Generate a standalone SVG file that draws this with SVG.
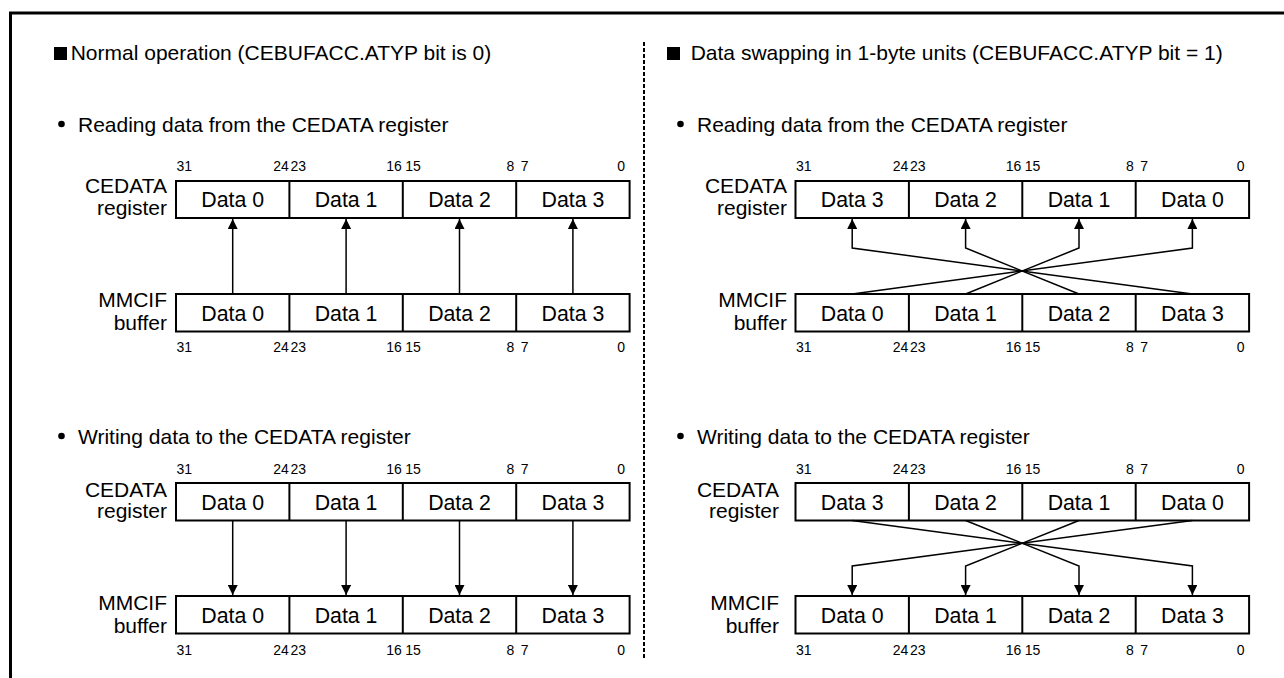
<svg xmlns="http://www.w3.org/2000/svg" width="1284" height="678" viewBox="0 0 1284 678">
<style>
text{font-family:"Liberation Sans",Arial,sans-serif;fill:#000}
.t{font-size:21px}
.d{font-size:21.3px;text-anchor:middle}
.lb{font-size:21px;text-anchor:end}
.b{font-size:14px}
.e{text-anchor:end}
.box{fill:#fff;stroke:#000;stroke-width:2}
.dv{stroke:#000;stroke-width:2}
.c{fill:none;stroke:#000;stroke-width:1.5}
</style>
<defs>
<marker id="ah" markerUnits="userSpaceOnUse" markerWidth="10" markerHeight="10" refX="10" refY="5" orient="auto" viewBox="0 0 10 10">
<path d="M0,0 L10,5 L0,10 z" fill="#000"/>
</marker>
</defs>
<rect width="1284" height="678" fill="#fff"/>
<path d="M10.5 678 V13 H1284" fill="none" stroke="#000" stroke-width="3"/>
<line x1="644" y1="42" x2="644" y2="658" stroke="#000" stroke-width="2" stroke-dasharray="4 2"/>

<g id="headings">
<rect x="54" y="47" width="13" height="13" fill="#000"/>
<text class="t" x="70.7" y="60">Normal operation (CEBUFACC.ATYP bit is 0)</text>
<rect x="667" y="47" width="13" height="13" fill="#000"/>
<text class="t" x="690.7" y="60">Data swapping in 1-byte units (CEBUFACC.ATYP bit = 1)</text>
<circle cx="61.5" cy="124" r="3.3" fill="#000"/>
<text class="t" x="78" y="132">Reading data from the CEDATA register</text>
<circle cx="680.5" cy="124" r="3.3" fill="#000"/>
<text class="t" x="697" y="132">Reading data from the CEDATA register</text>
<circle cx="61.5" cy="436" r="3.3" fill="#000"/>
<text class="t" x="78" y="444">Writing data to the CEDATA register</text>
<circle cx="680.5" cy="436" r="3.3" fill="#000"/>
<text class="t" x="697" y="444">Writing data to the CEDATA register</text>
</g>

<!-- Left read -->
<g id="L-read-reg">
<text class="lb" x="167" y="193">CEDATA</text>
<text class="lb" x="167" y="214.5">register</text>
<rect class="box" x="176" y="181" width="453.6" height="37"/>
<line class="dv" x1="289.4" y1="181" x2="289.4" y2="218"/>
<line class="dv" x1="402.8" y1="181" x2="402.8" y2="218"/>
<line class="dv" x1="516.2" y1="181" x2="516.2" y2="218"/>
<text class="d" x="232.7" y="207">Data 0</text>
<text class="d" x="346.1" y="207">Data 1</text>
<text class="d" x="459.5" y="207">Data 2</text>
<text class="d" x="572.9" y="207">Data 3</text>
<text class="b" x="176.5" y="171">31</text><text class="b e" x="288.9" y="171">24</text><text class="b" x="290.4" y="171">23</text><text class="b e" x="401.8" y="171">16</text><text class="b" x="405.3" y="171">15</text><text class="b e" x="514.2" y="171">8</text><text class="b" x="520.7" y="171">7</text><text class="b e" x="625" y="171">0</text>
</g>
<g id="L-read-buf">
<text class="lb" x="167" y="307">MMCIF</text>
<text class="lb" x="167" y="330">buffer</text>
<rect class="box" x="176" y="294" width="453.6" height="37.5"/>
<line class="dv" x1="289.4" y1="294" x2="289.4" y2="331.5"/>
<line class="dv" x1="402.8" y1="294" x2="402.8" y2="331.5"/>
<line class="dv" x1="516.2" y1="294" x2="516.2" y2="331.5"/>
<text class="d" x="232.7" y="320.5">Data 0</text>
<text class="d" x="346.1" y="320.5">Data 1</text>
<text class="d" x="459.5" y="320.5">Data 2</text>
<text class="d" x="572.9" y="320.5">Data 3</text>
<text class="b" x="176.5" y="352">31</text><text class="b e" x="288.9" y="352">24</text><text class="b" x="290.4" y="352">23</text><text class="b e" x="401.8" y="352">16</text><text class="b" x="405.3" y="352">15</text><text class="b e" x="514.2" y="352">8</text><text class="b" x="520.7" y="352">7</text><text class="b e" x="625" y="352">0</text>
</g>

<!-- Left write -->
<g id="L-write-reg">
<text class="lb" x="167" y="497">CEDATA</text>
<text class="lb" x="167" y="518">register</text>
<rect class="box" x="176" y="483" width="453.6" height="37.5"/>
<line class="dv" x1="289.4" y1="483" x2="289.4" y2="520.5"/>
<line class="dv" x1="402.8" y1="483" x2="402.8" y2="520.5"/>
<line class="dv" x1="516.2" y1="483" x2="516.2" y2="520.5"/>
<text class="d" x="232.7" y="509.5">Data 0</text>
<text class="d" x="346.1" y="509.5">Data 1</text>
<text class="d" x="459.5" y="509.5">Data 2</text>
<text class="d" x="572.9" y="509.5">Data 3</text>
<text class="b" x="176.5" y="474">31</text><text class="b e" x="288.9" y="474">24</text><text class="b" x="290.4" y="474">23</text><text class="b e" x="401.8" y="474">16</text><text class="b" x="405.3" y="474">15</text><text class="b e" x="514.2" y="474">8</text><text class="b" x="520.7" y="474">7</text><text class="b e" x="625" y="474">0</text>
</g>
<g id="L-write-buf">
<text class="lb" x="167" y="610">MMCIF</text>
<text class="lb" x="167" y="633">buffer</text>
<rect class="box" x="176" y="596" width="453.6" height="37.5"/>
<line class="dv" x1="289.4" y1="596" x2="289.4" y2="633.5"/>
<line class="dv" x1="402.8" y1="596" x2="402.8" y2="633.5"/>
<line class="dv" x1="516.2" y1="596" x2="516.2" y2="633.5"/>
<text class="d" x="232.7" y="622.5">Data 0</text>
<text class="d" x="346.1" y="622.5">Data 1</text>
<text class="d" x="459.5" y="622.5">Data 2</text>
<text class="d" x="572.9" y="622.5">Data 3</text>
<text class="b" x="176.5" y="655">31</text><text class="b e" x="288.9" y="655">24</text><text class="b" x="290.4" y="655">23</text><text class="b e" x="401.8" y="655">16</text><text class="b" x="405.3" y="655">15</text><text class="b e" x="514.2" y="655">8</text><text class="b" x="520.7" y="655">7</text><text class="b e" x="625" y="655">0</text>
</g>

<!-- Right read -->
<g id="R-read-reg">
<text class="lb" x="787" y="193">CEDATA</text>
<text class="lb" x="787" y="214.5">register</text>
<rect class="box" x="795.5" y="181" width="453.6" height="37"/>
<line class="dv" x1="908.9" y1="181" x2="908.9" y2="218"/>
<line class="dv" x1="1022.3" y1="181" x2="1022.3" y2="218"/>
<line class="dv" x1="1135.7" y1="181" x2="1135.7" y2="218"/>
<text class="d" x="852.2" y="207">Data 3</text>
<text class="d" x="965.6" y="207">Data 2</text>
<text class="d" x="1079" y="207">Data 1</text>
<text class="d" x="1192.4" y="207">Data 0</text>
<text class="b" x="796" y="171">31</text><text class="b e" x="908.4" y="171">24</text><text class="b" x="909.9" y="171">23</text><text class="b e" x="1021.3" y="171">16</text><text class="b" x="1024.8" y="171">15</text><text class="b e" x="1133.7" y="171">8</text><text class="b" x="1140.2" y="171">7</text><text class="b e" x="1244.5" y="171">0</text>
</g>
<g id="R-read-buf">
<text class="lb" x="787" y="307">MMCIF</text>
<text class="lb" x="787" y="330">buffer</text>
<rect class="box" x="795.5" y="294" width="453.6" height="37.5"/>
<line class="dv" x1="908.9" y1="294" x2="908.9" y2="331.5"/>
<line class="dv" x1="1022.3" y1="294" x2="1022.3" y2="331.5"/>
<line class="dv" x1="1135.7" y1="294" x2="1135.7" y2="331.5"/>
<text class="d" x="852.2" y="320.5">Data 0</text>
<text class="d" x="965.6" y="320.5">Data 1</text>
<text class="d" x="1079" y="320.5">Data 2</text>
<text class="d" x="1192.4" y="320.5">Data 3</text>
<text class="b" x="796" y="352">31</text><text class="b e" x="908.4" y="352">24</text><text class="b" x="909.9" y="352">23</text><text class="b e" x="1021.3" y="352">16</text><text class="b" x="1024.8" y="352">15</text><text class="b e" x="1133.7" y="352">8</text><text class="b" x="1140.2" y="352">7</text><text class="b e" x="1244.5" y="352">0</text>
</g>

<!-- Right write -->
<g id="R-write-reg">
<text class="lb" x="779" y="497">CEDATA</text>
<text class="lb" x="779" y="518">register</text>
<rect class="box" x="795.5" y="483" width="453.6" height="37.5"/>
<line class="dv" x1="908.9" y1="483" x2="908.9" y2="520.5"/>
<line class="dv" x1="1022.3" y1="483" x2="1022.3" y2="520.5"/>
<line class="dv" x1="1135.7" y1="483" x2="1135.7" y2="520.5"/>
<text class="d" x="852.2" y="509.5">Data 3</text>
<text class="d" x="965.6" y="509.5">Data 2</text>
<text class="d" x="1079" y="509.5">Data 1</text>
<text class="d" x="1192.4" y="509.5">Data 0</text>
<text class="b" x="796" y="474">31</text><text class="b e" x="908.4" y="474">24</text><text class="b" x="909.9" y="474">23</text><text class="b e" x="1021.3" y="474">16</text><text class="b" x="1024.8" y="474">15</text><text class="b e" x="1133.7" y="474">8</text><text class="b" x="1140.2" y="474">7</text><text class="b e" x="1244.5" y="474">0</text>
</g>
<g id="R-write-buf">
<text class="lb" x="779" y="610">MMCIF</text>
<text class="lb" x="779" y="633">buffer</text>
<rect class="box" x="795.5" y="596" width="453.6" height="37.5"/>
<line class="dv" x1="908.9" y1="596" x2="908.9" y2="633.5"/>
<line class="dv" x1="1022.3" y1="596" x2="1022.3" y2="633.5"/>
<line class="dv" x1="1135.7" y1="596" x2="1135.7" y2="633.5"/>
<text class="d" x="852.2" y="622.5">Data 0</text>
<text class="d" x="965.6" y="622.5">Data 1</text>
<text class="d" x="1079" y="622.5">Data 2</text>
<text class="d" x="1192.4" y="622.5">Data 3</text>
<text class="b" x="796" y="655">31</text><text class="b e" x="908.4" y="655">24</text><text class="b" x="909.9" y="655">23</text><text class="b e" x="1021.3" y="655">16</text><text class="b" x="1024.8" y="655">15</text><text class="b e" x="1133.7" y="655">8</text><text class="b" x="1140.2" y="655">7</text><text class="b e" x="1244.5" y="655">0</text>
</g>

<g id="connectors">
<line class="c" x1="232.7" y1="294" x2="232.7" y2="219" marker-end="url(#ah)"/>
<line class="c" x1="346.1" y1="294" x2="346.1" y2="219" marker-end="url(#ah)"/>
<line class="c" x1="459.5" y1="294" x2="459.5" y2="219" marker-end="url(#ah)"/>
<line class="c" x1="572.9" y1="294" x2="572.9" y2="219" marker-end="url(#ah)"/>
<line class="c" x1="232.7" y1="520.5" x2="232.7" y2="595" marker-end="url(#ah)"/>
<line class="c" x1="346.1" y1="520.5" x2="346.1" y2="595" marker-end="url(#ah)"/>
<line class="c" x1="459.5" y1="520.5" x2="459.5" y2="595" marker-end="url(#ah)"/>
<line class="c" x1="572.9" y1="520.5" x2="572.9" y2="595" marker-end="url(#ah)"/>
<polyline class="c" points="852.2,294 1192.4,248 1192.4,219" marker-end="url(#ah)"/>
<polyline class="c" points="965.6,294 1079,248 1079,219" marker-end="url(#ah)"/>
<polyline class="c" points="1079,294 965.6,248 965.6,219" marker-end="url(#ah)"/>
<polyline class="c" points="1192.4,294 852.2,248 852.2,219" marker-end="url(#ah)"/>
<polyline class="c" points="852.2,520.5 1192.4,566 1192.4,595" marker-end="url(#ah)"/>
<polyline class="c" points="965.6,520.5 1079,566 1079,595" marker-end="url(#ah)"/>
<polyline class="c" points="1079,520.5 965.6,566 965.6,595" marker-end="url(#ah)"/>
<polyline class="c" points="1192.4,520.5 852.2,566 852.2,595" marker-end="url(#ah)"/>
</g>
</svg>
